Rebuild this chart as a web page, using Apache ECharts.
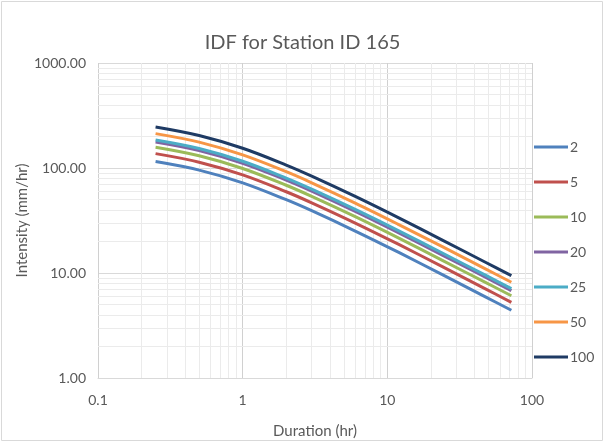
<!DOCTYPE html>
<html>
<head>
<meta charset="utf-8">
<script src="https://cdn.jsdelivr.net/npm/echarts@6/dist/echarts.min.js"></script>
<style>html,body{margin:0;padding:0;background:#fff;}#c{width:605px;height:443px;}</style>
</head>
<body>
<div id="c"></div>
<script>
const durations = [0.25, 0.5, 1, 2, 3, 6, 12, 24, 48, 72];
const returnPeriods = ['2', '5', '10', '20', '25', '50', '100'];
const rp2   = [115.1, 95.5, 72.2, 49.9, 39.2, 25.1, 15.7, 9.64, 5.90, 4.42];
const rp5   = [137.0, 113.6, 85.9, 59.4, 46.6, 29.9, 18.7, 11.5, 7.02, 5.26];
const rp10  = [157.9, 131.0, 99.0, 68.5, 53.7, 34.4, 21.5, 13.2, 8.09, 6.07];
const rp20  = [177.1, 146.9, 111.0, 76.8, 60.3, 38.6, 24.1, 14.8, 9.07, 6.80];
const rp25  = [185.0, 153.5, 116.0, 80.2, 62.9, 40.3, 25.2, 15.5, 9.48, 7.11];
const rp50  = [212.5, 176.3, 133.2, 92.2, 72.3, 46.3, 28.9, 17.8, 10.9, 8.16];
const rp100 = [246.0, 204.0, 154.2, 106.7, 83.7, 53.6, 33.5, 20.6, 12.6, 9.45];
const xMinorGrid = [0.2,0.3,0.4,0.5,0.6,0.7,0.8,0.9,2,3,4,5,6,7,8,9,20,30,40,50,60,70,80,90];
const yMinorGrid = [2,3,4,5,6,7,8,9,20,30,40,50,60,70,80,90,200,300,400,500,600,700,800,900];
const xRange = [0.1, 100];
const yRange = [1, 1000];

const allSeries = [rp2, rp5, rp10, rp20, rp25, rp50, rp100];
const colors = ['#4F81BD', '#C0504D', '#9BBB59', '#8064A2', '#4BACC6', '#F79646', '#1F3B64'];
const FONT = 'Lato, "Open Sans", sans-serif';
const TXT = '#595959';

const gridLines = xMinorGrid.map(v => ({ coords: [[v, yRange[0]], [v, yRange[1]]] }))
  .concat(yMinorGrid.map(v => ({ coords: [[xRange[0], v], [xRange[1], v]] })));

const series = [{
  name: '__grid', type: 'lines', coordinateSystem: 'cartesian2d', z: 1, silent: true,
  polyline: false, effect: { show: false },
  lineStyle: { color: '#ebebeb', width: 1, opacity: 1, curveness: 0 },
  data: gridLines
}];
returnPeriods.forEach((rp, i) => {
  series.push({
    name: rp, type: 'line', smooth: 0.35, showSymbol: false, z: 3,
    lineStyle: { width: 3, color: colors[i] }, itemStyle: { color: colors[i] },
    emphasis: { disabled: true },
    data: durations.map((d, j) => [d, allSeries[i][j]])
  });
});

const chart = echarts.init(document.getElementById('c'));
chart.setOption({
  animation: false,
  textStyle: { fontFamily: FONT },
  title: {
    text: 'IDF for Station ID 165', left: 'center', top: 28,
    textStyle: { fontFamily: FONT, fontSize: 20, fontWeight: 'normal', color: TXT }
  },
  grid: { left: 98, right: 73, top: 63, bottom: 65, outerBoundsMode: 'none', containLabel: false },
  legend: {
    data: returnPeriods, orient: 'vertical', left: 529, top: 134,
    icon: 'rect', itemWidth: 34, itemHeight: 3, itemGap: 19,
    textStyle: { fontFamily: FONT, fontSize: 14, color: TXT, lineHeight: 16, padding: [0, 0, 0, -3] }
  },
  xAxis: {
    type: 'log', logBase: 10, min: xRange[0], max: xRange[1],
    name: 'Duration (hr)', nameLocation: 'middle', nameGap: 46, nameMoveOverlap: false,
    nameTextStyle: { fontFamily: FONT, fontSize: 15, color: TXT },
    axisLine: { show: true, lineStyle: { color: '#d9d9d9' } },
    axisTick: { show: false },
    axisLabel: { fontFamily: FONT, fontSize: 14, color: TXT, margin: 15, formatter: v => String(+v.toPrecision(3)) },
    splitLine: { show: true, lineStyle: { color: '#d0d0d0', width: 1 } }
  },
  yAxis: {
    type: 'log', logBase: 10, min: yRange[0], max: yRange[1],
    name: 'Intensity (mm/hr)', nameLocation: 'middle', nameGap: 68, nameRotate: 90, nameMoveOverlap: false,
    nameTextStyle: { fontFamily: FONT, fontSize: 15, color: TXT },
    axisLine: { show: false }, axisTick: { show: false },
    axisLabel: { fontFamily: FONT, fontSize: 14, color: TXT, margin: 12, formatter: v => Number(v).toFixed(2) },
    splitLine: { show: true, lineStyle: { color: '#d9d9d9', width: 1 } }
  },
  graphic: [{
    type: 'rect', silent: true, z: 100,
    shape: { x: 1.5, y: 1.5, width: 601, height: 439 },
    style: { fill: 'none', stroke: '#d9d9d9', lineWidth: 1 }
  }],
  series: series
});
</script>
</body>
</html>
